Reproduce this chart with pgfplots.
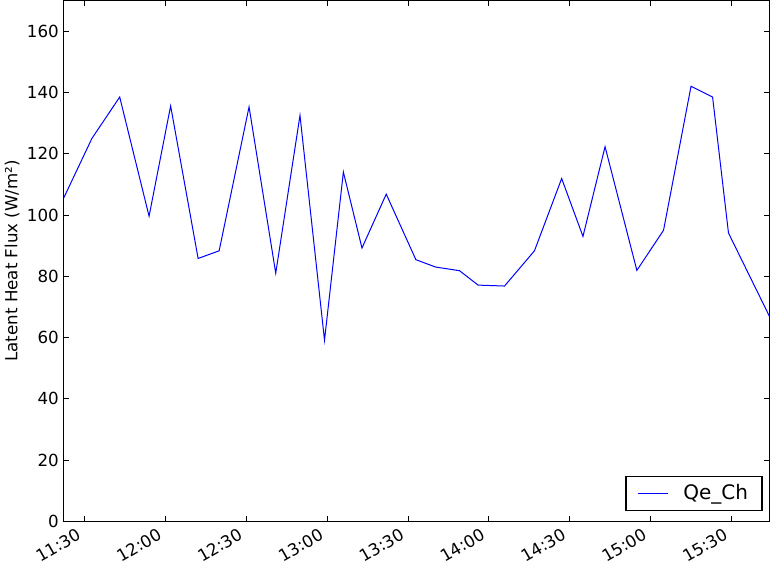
\documentclass[border=0pt]{standalone}
\usepackage{fontspec}
\setmainfont{DejaVu Sans}
\usepackage{pgfplots}
\pgfplotsset{compat=1.18}

% latent heat flux, time in minutes after midnight
\pgfplotstableread{
t      qe
682.2  105.5
692.7  125.0
703.0  138.5
713.9  99.6
721.9  135.6
732.1  85.8
739.9  88.3
751.0  135.3
760.9  81.0
769.9  132.5
779.0  59.1
786.0  114.0
792.9  89.2
801.9  106.8
812.9  85.4
820.2  83.0
829.1  81.8
836.0  77.1
845.8  76.8
856.9  88.3
867.0  111.9
874.9  93.0
883.1  122.3
894.9  81.9
904.8  95.0
915.0  142.0
923.0  138.5
928.9  94.1
944.1  66.9
}\qech

\begin{document}
\begin{tikzpicture}
\begin{axis}[
    scale only axis,
    width=508.3pt,
    height=375pt,
    xmin=682.2, xmax=944.1,
    ymin=0, ymax=170,
    xtick={690,720,750,780,810,840,870,900,930},
    xticklabels={11:30,12:00,12:30,13:00,13:30,14:00,14:30,15:00,15:30},
    x tick label style={xshift=-6pt, yshift=-3pt, rotate=30, anchor=north east, inner sep=1pt},
    ytick={0,20,...,160},
    /pgf/number format/assume math mode=true,
    tick label style={font=\fontsize{12}{14}\selectfont},
    tick align=inside,
    major tick length=4pt,
    tick style={black, line width=0.6pt},
    axis line style={black, line width=0.8pt},
    ylabel={Latent Heat Flux (W/m²)},
    ylabel style={font=\fontsize{12}{14}\selectfont},
    ylabel shift=-1.5pt,
    legend style={at={(1,0)}, anchor=south east, xshift=-5pt, yshift=7.6pt,
        font=\fontsize{14.4}{17}\selectfont, draw=black, line width=0.8pt,
        inner xsep=8pt, inner ysep=4pt},
    legend cell align=left,
    legend image code/.code={\draw[#1] (0pt,0pt) -- (21.6pt,0pt);},
    legend image post style={line width=0.72pt},
]
\addplot[color=blue, line width=0.72pt, mark=none] table[x=t, y=qe] {\qech};
\addlegendentry{\hspace{9pt}Qe\_Ch}
\end{axis}
\end{tikzpicture}
\end{document}
